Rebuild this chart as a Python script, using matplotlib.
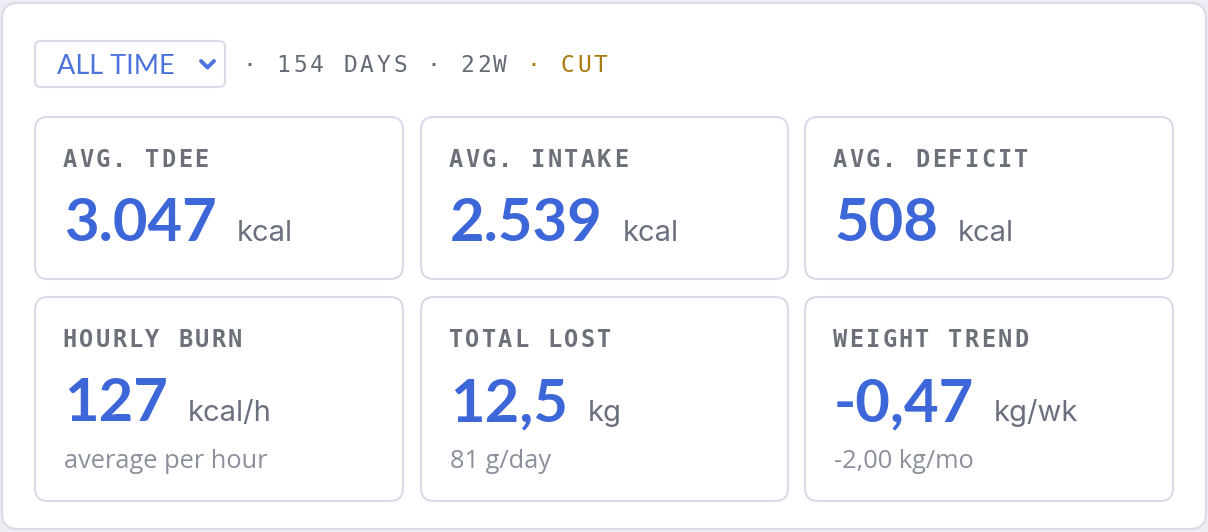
import matplotlib
matplotlib.use("Agg")
import matplotlib.pyplot as plt
from matplotlib.patches import FancyBboxPatch

# header data
period = "ALL TIME"
days = 154
weeks = 22
phase = "CUT"

# card data (row by row)
labels = ["AVG. TDEE", "AVG. INTAKE", "AVG. DEFICIT",
          "HOURLY BURN", "TOTAL LOST", "WEIGHT TREND"]
values = ["3.047", "2.539", "508", "127", "12,5", "-0,47"]
units = ["kcal", "kcal", "kcal", "kcal/h", "kg", "kg/wk"]
subtexts = ["", "", "", "average per hour", "81 g/day", "-2,00 kg/mo"]

BLUE = "#3d67d8"
LABEL = "#6b7079"
UNIT = "#6b7080"
SUB = "#8a909b"
MONO = "#656b76"
GOLD = "#a8790f"
BORDER = "#d9dce6"

W, H = 1208, 532
fig = plt.figure(figsize=(W / 100, H / 100), dpi=100)
fig.patch.set_facecolor("#eceef3")
ax = fig.add_axes([0, 0, 1, 1])
ax.set_xlim(0, W)
ax.set_ylim(H, 0)
ax.axis("off")


def rbox(x0, y0, x1, y1, r, fc="white", ec=BORDER, lw=1.5):
    ax.add_patch(FancyBboxPatch((x0, y0), x1 - x0, y1 - y0,
                                boxstyle=f"round,pad=0,rounding_size={r}",
                                fc=fc, ec=ec, lw=lw))


def spaced(x, y, s, pitch, colors, size, weight="normal"):
    # monospace text with letter spacing, one char per cell
    for i, ch in enumerate(s):
        c = colors[i] if isinstance(colors, list) else colors
        ax.text(x + i * pitch + pitch / 2 - 1.5, y, ch, ha="center", va="center",
                fontsize=size, color=c, family="DejaVu Sans Mono", weight=weight)


# outer panel
rbox(2, 3, 1206, 529, 16, lw=1.5)

# dropdown
rbox(35, 41, 225, 87, 6)
ax.text(57, 66, period, ha="left", va="center", fontsize=19.5, color="#4d74dc",
        family="Lato")
ax.plot([201, 207.5, 214], [61, 67.5, 61], color="#4d74dc", lw=2.8,
        solid_capstyle="round", solid_joinstyle="round")

hdr = f"· {days} DAYS · {weeks}W · {phase}"
cols = [MONO] * len(hdr)
gold_from = hdr.rfind("·")
for i in range(gold_from, len(hdr)):
    cols[i] = GOLD
spaced(243, 66, hdr, 16.7, cols, 16.5)

fig.canvas.draw()
renderer = fig.canvas.get_renderer()
inv = ax.transData.inverted()

col_x = [(35, 403), (421, 788), (805, 1173)]
row_y = [(117, 279), (297, 501)]

for k in range(len(labels)):
    r, c = divmod(k, 3)
    x0, x1 = col_x[c]
    y0, y1 = row_y[r]
    rbox(x0, y0, x1, y1, 13)
    tx = x0 + 29
    spaced(tx - 1, y0 + 43, labels[k], 16.5, LABEL, 17, weight="bold")
    base = y0 + 124
    v = ax.text(tx, base, values[k], ha="left", va="baseline", fontsize=43,
                color=BLUE, family="Lato", weight="bold")
    bb = v.get_window_extent(renderer)
    xr = inv.transform((bb.x1, bb.y1))[0]
    ax.text(xr + 20, base, units[k], ha="left", va="baseline", fontsize=21,
            color=UNIT, family="Inter")
    if subtexts[k]:
        ax.text(tx, base + 47, subtexts[k], ha="left", va="baseline",
                fontsize=18.3, color=SUB, family="Open Sans")

fig.savefig("out.png", dpi=100, facecolor=fig.get_facecolor())
